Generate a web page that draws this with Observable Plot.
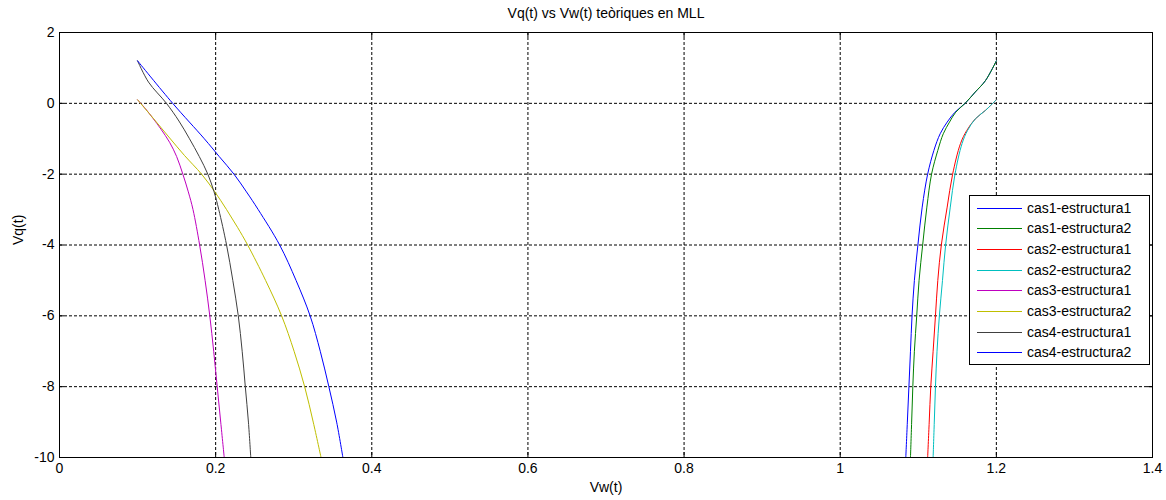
<!DOCTYPE html>
<html>
<head>
<meta charset="utf-8">
<script src="https://cdn.jsdelivr.net/npm/d3@7"></script>
<script src="https://cdn.jsdelivr.net/npm/@observablehq/plot@0.6"></script>
<style>
  html, body { margin: 0; padding: 0; background: #fff; }
  svg { display: block; }
</style>
</head>
<body>
<div id="chart"></div>
<script>
// ---- data ----
const chartTitle = "Vq(t) vs Vw(t) teòriques en MLL";
const xLabel = "Vw(t)";
const yLabel = "Vq(t)";
const xTicks = [0, 0.2, 0.4, 0.6, 0.8, 1, 1.2, 1.4];
const yTicks = [-10, -8, -6, -4, -2, 0, 2];
const seriesNames = [
  "cas1-estructura1", "cas1-estructura2", "cas2-estructura1", "cas2-estructura2",
  "cas3-estructura1", "cas3-estructura2", "cas4-estructura1", "cas4-estructura2"
];

// [Vw, Vq] pairs
const cas1e1 = [[1.084,-10],[1.086,-9],[1.088,-8],[1.090,-7],[1.092,-6],[1.095,-5],[1.0995,-4],[1.105,-2.93],[1.112,-2],[1.120,-1.33],[1.128,-0.86],[1.137,-0.53],[1.147,-0.25],[1.160,0],[1.173,0.32],[1.186,0.64],[1.2,1.2]];
const cas1e2 = [[1.090,-10],[1.0915,-9],[1.093,-8],[1.095,-7],[1.098,-6],[1.101,-5],[1.1056,-4],[1.111,-2.93],[1.117,-2],[1.125,-1.33],[1.132,-0.86],[1.140,-0.53],[1.148,-0.25],[1.160,0],[1.173,0.32],[1.186,0.64],[1.2,1.2]];
const cas2e1 = [[1.112,-10],[1.114,-9],[1.116,-8],[1.119,-7],[1.122,-6],[1.125,-5],[1.1295,-4],[1.137,-2.93],[1.144,-2],[1.154,-1.14],[1.162,-0.77],[1.173,-0.44],[1.186,-0.2],[1.2,0.1]];
const cas2e2 = [[1.119,-10],[1.1205,-9],[1.122,-8],[1.124,-7],[1.127,-6],[1.131,-5],[1.135,-4],[1.141,-2.93],[1.147,-2],[1.156,-1.14],[1.163,-0.77],[1.173,-0.44],[1.186,-0.2],[1.2,0.1]];
const cas3e1 = [[0.1,0.1],[0.11,-0.15],[0.12,-0.43],[0.13,-0.73],[0.141,-1.1],[0.15,-1.5],[0.158,-2],[0.165,-2.5],[0.171,-3],[0.1795,-4],[0.1865,-5],[0.1925,-6],[0.1975,-7],[0.202,-8],[0.2065,-9],[0.211,-10]];
const cas3e2 = [[0.1,0.1],[0.12,-0.42],[0.14,-0.95],[0.16,-1.47],[0.182,-2],[0.199,-2.5],[0.214,-3],[0.228,-3.5],[0.241,-4],[0.264,-5],[0.2845,-6],[0.3005,-7],[0.314,-8],[0.325,-9],[0.335,-10]];
const cas4e1 = [[0.1,1.2],[0.114,0.6],[0.137,0],[0.153,-0.5],[0.1665,-1],[0.179,-1.5],[0.19,-2],[0.198,-2.5],[0.204,-3],[0.214,-4],[0.222,-5],[0.229,-6],[0.234,-7],[0.238,-8],[0.242,-9],[0.245,-10]];
const cas4e2 = [[0.1,1.2],[0.145,0],[0.1855,-1],[0.2045,-1.5],[0.2235,-2],[0.2395,-2.5],[0.2545,-3],[0.282,-4],[0.303,-5],[0.321,-6],[0.334,-7],[0.345,-8],[0.355,-9],[0.363,-10]];

const seriesData = [cas1e1, cas1e2, cas2e1, cas2e2, cas3e1, cas3e2, cas4e1, cas4e2];

// ---- build table ----
const rows = seriesData.flatMap((pts, i) => pts.map(([x, y]) => ({series: seriesNames[i], x, y})));

const colors = ["#0000ff", "#008000", "#ff0000", "#00bfbf", "#bf00bf", "#bfbf00", "#404040", "#0000ff"];
const font = "Liberation Sans, Arial, Helvetica, sans-serif";

const W = 1166, H = 500;
const mL = 59, mR = 14, mT = 32, mB = 43;
const frameW = W - mL - mR, frameH = H - mT - mB;

const plot = Plot.plot({
  width: W,
  height: H,
  marginLeft: mL,
  marginRight: mR,
  marginTop: mT,
  marginBottom: mB,
  style: {fontFamily: font, fontSize: "14px", color: "#000", background: "#fff"},
  x: {domain: [0, 1.4]},
  y: {domain: [-10, 2]},
  color: {domain: seriesNames, range: colors},
  marks: [
    Plot.gridX(xTicks, {stroke: "#000", strokeOpacity: 1, strokeDasharray: "3,2"}),
    Plot.gridY(yTicks, {stroke: "#000", strokeOpacity: 1, strokeDasharray: "3,2"}),
    // inward tick marks (bottom, top, left, right)
    Plot.ruleX(xTicks, {x: d => d, stroke: "#000", insetTop: frameH - 5}),
    Plot.ruleX(xTicks, {x: d => d, stroke: "#000", insetBottom: frameH - 5}),
    Plot.ruleY(yTicks, {y: d => d, stroke: "#000", insetRight: frameW - 5}),
    Plot.ruleY(yTicks, {y: d => d, stroke: "#000", insetLeft: frameW - 5}),
    Plot.line(rows, {x: "x", y: "y", z: "series", stroke: "series", strokeWidth: 1, curve: "catmull-rom", clip: true}),
    Plot.frame({stroke: "#000"}),
    Plot.axisX(xTicks, {tickSize: 0, tickPadding: 6, tickFormat: d => String(d), label: null, fontSize: 14}),
    Plot.axisY(yTicks, {tickSize: 0, tickPadding: 5, tickFormat: d => String(d), label: null, fontSize: 14}),
    Plot.text([chartTitle], {frameAnchor: "top", dy: -19, lineAnchor: "middle", fontSize: 14, fill: "#000"}),
    Plot.text([xLabel], {frameAnchor: "bottom", dy: 30, lineAnchor: "middle", fontSize: 14, fill: "#000"}),
    Plot.text([yLabel], {frameAnchor: "left", dx: -41, rotate: -90, lineAnchor: "middle", fontSize: 14, fill: "#000"})
  ]
});

// ---- legend (inside the axes, like MATLAB) ----
const svg = d3.select(plot);
const lg = svg.append("g").attr("font-family", font).attr("font-size", 14).attr("text-anchor", "start");
const lx = 969.5, ly = 195.5, lw = 180, lh = 169;
lg.append("rect").attr("x", lx).attr("y", ly).attr("width", lw).attr("height", lh)
  .attr("fill", "#fff").attr("stroke", "#000");
seriesNames.forEach((name, i) => {
  const yy = Math.round(207.5 + i * 20.7) + 0.5;
  lg.append("line").attr("x1", 977).attr("x2", 1022).attr("y1", yy).attr("y2", yy)
    .attr("stroke", colors[i]).attr("stroke-width", 1).attr("shape-rendering", "crispEdges");
  lg.append("text").attr("x", 1027).attr("y", yy).attr("dy", "0.35em")
    .attr("text-anchor", "start").attr("fill", "#000").text(name);
});

document.getElementById("chart").appendChild(plot);
</script>
</body>
</html>
